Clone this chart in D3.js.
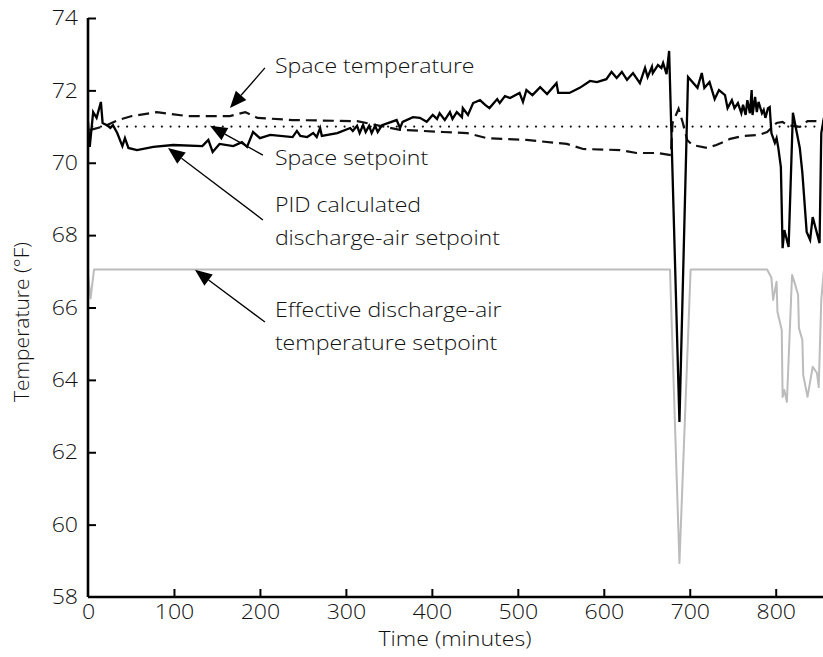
<!DOCTYPE html>
<html><head><meta charset="utf-8">
<script src="https://cdn.jsdelivr.net/npm/d3@7"></script>
<style>
html,body{margin:0;padding:0;background:#fff;}
svg text{font-family:"Open Sans","Liberation Sans",Arial,sans-serif;font-weight:300;fill:#111;}
</style>
</head><body>
<svg id="chart" width="823" height="657"></svg>
<script>
// ---- data (time in minutes, temperature in °F) ----
const xTicks = [0,100,200,300,400,500,600,700,800];
const yTicks = [58,60,62,64,66,68,70,72,74];
const xTitle = "Time (minutes)";
const yTitle = "Temperature (°F)";

const spaceTempT = [2,20,35,51,80,115,165,183,197,238,313,363,413,441,464,510,557,576,619,638,662,678,680,687,692,697,703,720,731,747,762,781,790,801,808,813,828,837,849,856];
const spaceTempV = [70.9,71.02,71.18,71.29,71.4,71.29,71.29,71.4,71.24,71.18,71.15,70.91,70.85,70.82,70.68,70.63,70.52,70.38,70.35,70.27,70.27,70.21,71.1,71.49,71.1,70.63,70.49,70.41,70.49,70.66,70.74,70.77,70.85,71.1,71.13,71.04,70.99,71.15,71.15,71.15];

const setpointT = [5,856];
const setpointV = [71,71];

const pidT = [0,2,6,10,15,17,22,26,29,34,40,43,47,57,76,99,133,140,145,153,169,179,185,192,200,212,238,243,247,255,262,266,270,272,290,305,308,313,316,320,323,327,330,334,337,342,359,363,366,378,386,394,401,406,409,415,421,424,429,435,436,442,448,456,462,467,476,479,485,491,502,506,510,517,526,534,541,545,547,560,572,584,592,603,609,615,621,627,634,642,648,651,656,657,663,667,669,673,676,688,698,709,714,717,723,729,734,741,744,749,752,756,760,762,765,767,770,772,773,776,778,780,784,786,788,791,793,795,799,801,803,806,808,810,815,820,828,831,836,840,843,851,853,856];
const pidV = [71.13,70.44,71.4,71.24,71.68,71.1,71.04,70.96,71.04,70.82,70.46,70.68,70.41,70.35,70.44,70.49,70.46,70.63,70.3,70.52,70.46,70.57,70.44,70.85,70.68,70.77,70.71,70.88,70.74,70.71,70.82,70.71,70.96,70.74,70.82,70.96,70.88,71.02,70.82,71.04,70.85,71.02,70.82,71.02,70.85,71.04,71.18,70.96,71.13,71.26,71.24,71.13,71.32,71.21,71.37,71.18,71.4,71.21,71.4,71.26,71.51,71.32,71.65,71.73,71.6,71.51,71.76,71.65,71.84,71.79,71.93,71.68,72.01,71.87,72.09,71.9,72.09,72.2,71.93,71.93,72.07,72.26,72.23,72.31,72.51,72.34,72.51,72.29,72.48,72.2,72.62,72.37,72.65,72.48,72.7,72.62,72.76,72.45,73.09,62.84,72.37,72.07,72.48,72.07,72.23,71.76,72.01,71.87,71.51,71.73,71.51,71.65,71.37,71.6,71.32,71.73,71.37,72.01,71.32,71.82,71.4,71.68,71.37,71.46,71.24,71.51,71.54,70.82,70.55,70.68,70.41,69.88,67.64,68.14,67.67,71.38,70.41,69.72,68.09,67.87,68.5,67.78,70.82,71.24];

const effT = [0,3,7,677,688,701,790,795,797,801,802,807,808,810,813,819,822,826,827,831,832,837,843,848,850,853,857];
const effV = [66.9,66.25,67.05,67.05,58.94,67.05,67.05,66.82,66.21,66.71,65.88,65.38,63.53,63.72,63.39,66.9,66.68,66.35,65.43,65.1,64.13,63.53,64.36,64.19,63.8,66.21,67.3];

const annLabels = [["Space temperature"],["Space setpoint"],["PID calculated","discharge-air setpoint"],["Effective discharge-air","temperature setpoint"]];
const annTextT = [217.4,217.4,217.4,217.4];
const annTextV = [72.48,69.94,68.64,65.74];
const annTailT = [205.8,203.5,203.5,205.8];
const annTailV = [72.62,70.21,68.42,65.6];
const annTipT  = [165.1,141.9,93,124.4];
const annTipV  = [71.51,71.02,70.41,67.04];

// ---- layout ----
const W = 823, H = 657, FS = "21px", SX = 1.1;
const x = d3.scaleLinear().domain([0,855]).range([88,823]);
const y = d3.scaleLinear().domain([58,74]).range([597,18]);
const svg = d3.select("#chart");
const stretch = x0 => `translate(${x0},0) scale(${SX},1) translate(${-x0},0)`;

svg.append("defs").append("clipPath").attr("id","clip")
  .append("rect").attr("x",88).attr("y",0).attr("width",W-88).attr("height",597);

const zip = (T,V)=>T.map((t,i)=>[t,V[i]]);
const line = d3.line().x(d=>x(d[0])).y(d=>y(d[1]));
const g = svg.append("g").attr("clip-path","url(#clip)");

g.append("path").datum(zip(effT,effV)).attr("d",line)
  .attr("fill","none").attr("stroke","#bcbcbc").attr("stroke-width",2).attr("stroke-linejoin","round");
g.append("path").datum(zip(setpointT,setpointV)).attr("d",line)
  .attr("fill","none").attr("stroke","#111").attr("stroke-width",2.2)
  .attr("stroke-dasharray","0 8.7").attr("stroke-linecap","round");
g.append("path").datum(zip(spaceTempT,spaceTempV)).attr("d",line)
  .attr("fill","none").attr("stroke","#111").attr("stroke-width",2.2).attr("stroke-dasharray","11 6");
g.append("path").datum(zip(pidT,pidV)).attr("d",line)
  .attr("fill","none").attr("stroke","#000").attr("stroke-width",2.3).attr("stroke-linejoin","miter");

// axes
const xAxis = d3.axisBottom(x).tickValues(xTicks).tickSize(-8).tickPadding(7).tickFormat(d3.format("d"));
const yAxis = d3.axisLeft(y).tickValues(yTicks).tickSize(-8).tickPadding(10).tickFormat(d3.format("d"));
const gx = svg.append("g").attr("transform","translate(0,597)").call(xAxis);
const gy = svg.append("g").attr("transform","translate(88,0)").call(yAxis);
[gx,gy].forEach(a=>{
  a.select(".domain").attr("stroke","#000").attr("stroke-width",2.6);
  a.selectAll(".tick line").attr("stroke","#000").attr("stroke-width",2);
  a.selectAll(".tick text").style("font-size",FS).attr("fill","#111");
});
gx.selectAll(".tick text").attr("transform",stretch(0));
gy.selectAll(".tick text").attr("transform",stretch(-10));
gx.selectAll(".tick").filter(d=>d===0).select("line").remove();
gy.selectAll(".tick").filter(d=>d===58).select("line").remove();
gx.select(".domain").attr("d","M88,0H823");
gy.select(".domain").attr("d","M0,18V597");

svg.append("text").attr("x",455).attr("y",646).attr("text-anchor","middle")
  .attr("transform",stretch(455)).style("font-size",FS).text(xTitle);
svg.append("text").attr("transform","translate(29,322) rotate(-90)").attr("text-anchor","middle")
  .style("font-size",FS).text(yTitle);

// annotations
annLabels.forEach((lines,i)=>{
  const x0 = x(annTextT[i]);
  const t = svg.append("text").attr("x",x0).attr("y",y(annTextV[i]))
    .attr("transform",stretch(x0)).style("font-size",FS);
  lines.forEach((s,j)=>t.append("tspan").attr("x",x0).attr("dy",j?33:0).text(s));
  const x1=x(annTailT[i]), y1=y(annTailV[i]), x2=x(annTipT[i]), y2=y(annTipV[i]);
  const ang=Math.atan2(y2-y1,x2-x1), L=17, Wd=7;
  const bx=x2-L*Math.cos(ang), by=y2-L*Math.sin(ang);
  svg.append("line").attr("x1",x1).attr("y1",y1).attr("x2",bx).attr("y2",by)
    .attr("stroke","#000").attr("stroke-width",1.3);
  svg.append("path").attr("d",`M${x2},${y2}L${bx+Wd*Math.sin(ang)},${by-Wd*Math.cos(ang)}L${bx-Wd*Math.sin(ang)},${by+Wd*Math.cos(ang)}Z`)
    .attr("fill","#000");
});
</script>
</body></html>
